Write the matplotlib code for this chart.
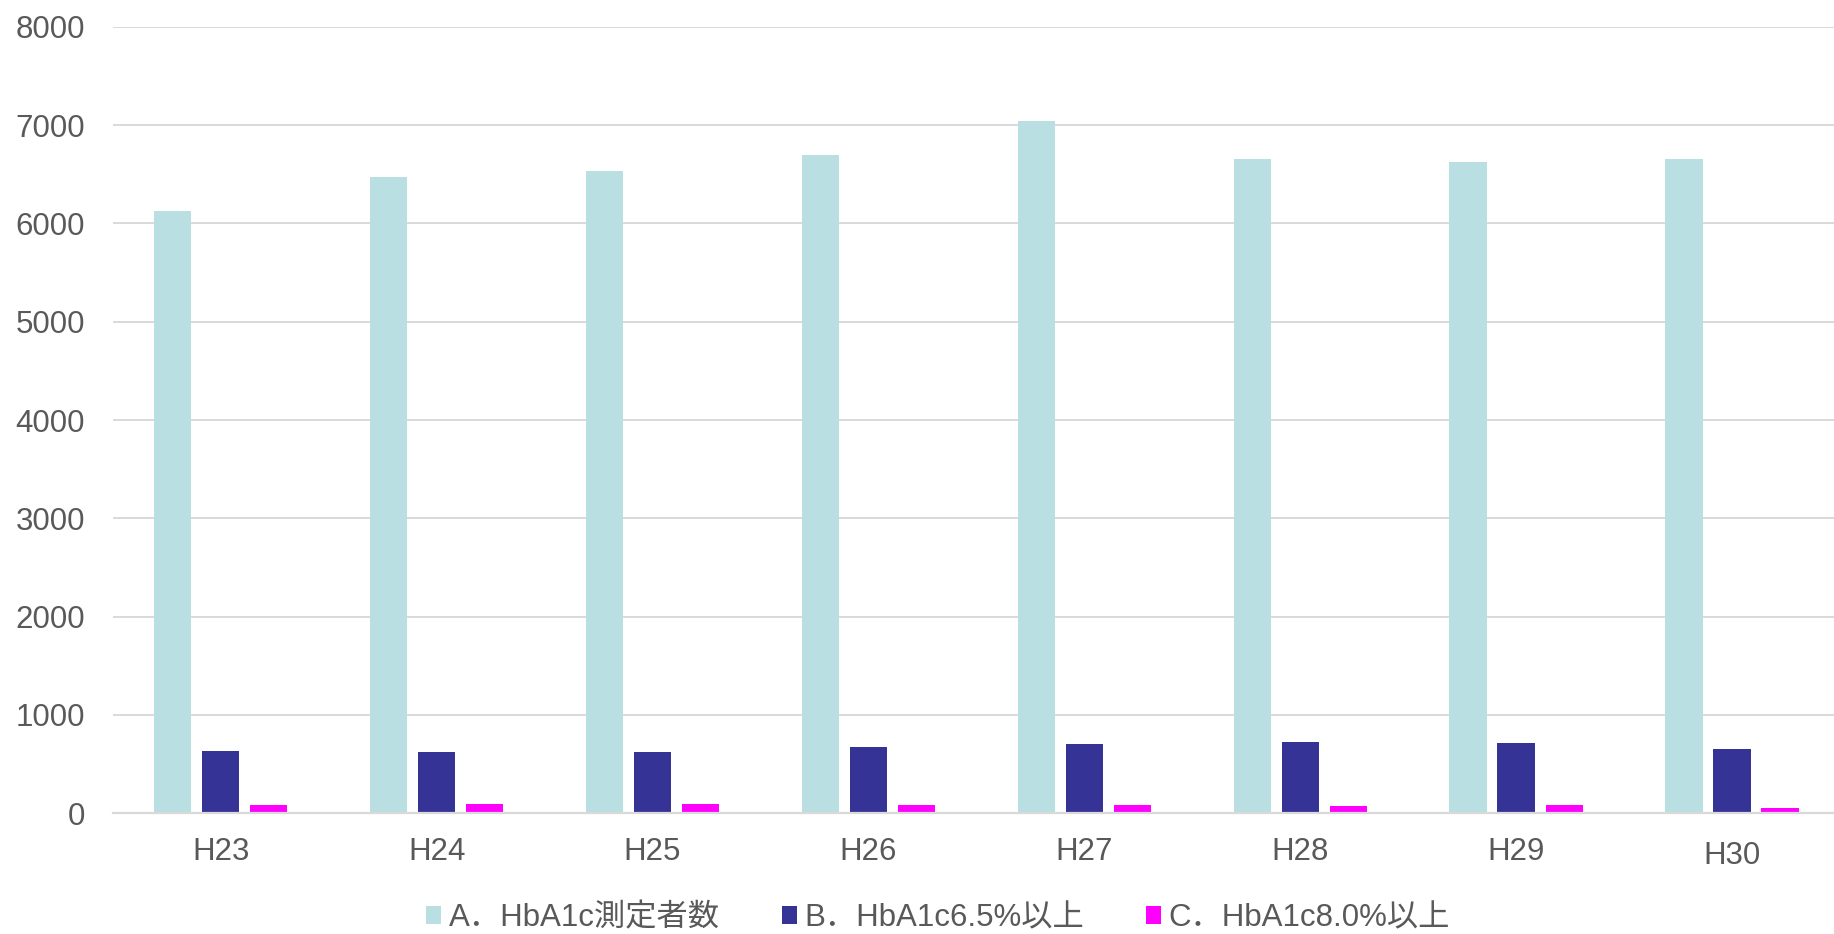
import numpy as np
import matplotlib
matplotlib.use("Agg")
import matplotlib.pyplot as plt
from matplotlib.patches import Patch
import matplotlib.transforms as mtransforms

plt.rcParams['font.family'] = ['Liberation Sans', 'Noto Sans CJK JP', 'DejaVu Sans']

categories = ["H23", "H24", "H25", "H26", "H27", "H28", "H29", "H30"]
series_names = ["A．HbA1c測定者数", "B．HbA1c6.5%以上", "C．HbA1c8.0%以上"]
a_measured = [6122, 6476, 6531, 6695, 7044, 6651, 6624, 6658]
b_over65 = [634, 624, 627, 671, 705, 722, 712, 651]
c_over80 = [85, 98, 98, 85, 85, 75, 85, 54]
y_ticks = [0, 1000, 2000, 3000, 4000, 5000, 6000, 7000, 8000]

colors = ["#BADFE3", "#363396", "#FF00FF"]
text_color = "#595959"
grid_color = "#D9D9D9"

W, H = 1834, 934
fig = plt.figure(figsize=(W / 100, H / 100), dpi=100)
left, right = 112.8, 1840.0
top, bottom = 26.7, 813.3
ax = fig.add_axes([left / W, 1 - bottom / H, (right - left) / W, (bottom - top) / H])

x = np.arange(len(categories))
bw = 0.173
off = 0.2225
ax.bar(x - off, a_measured, bw, color=colors[0], zorder=3)
ax.bar(x, b_over65, bw, color=colors[1], zorder=3)
ax.bar(x + off, c_over80, bw, color=colors[2], zorder=3)

ax.set_xlim(-0.5, len(categories) - 0.5)
ax.set_ylim(0, 8000)
ax.set_yticks(y_ticks)
ax.set_yticklabels([str(v) for v in y_ticks])
ax.set_xticks(x)
ax.set_xticklabels(categories)

ax.yaxis.grid(True, color=grid_color, linewidth=1.4, zorder=0)
ax.set_axisbelow(True)
for s in ["left", "right", "top"]:
    ax.spines[s].set_visible(False)
ax.spines["bottom"].set_color(grid_color)
ax.spines["bottom"].set_linewidth(1.6)
ax.spines["bottom"].set_zorder(4)

ax.tick_params(axis="y", length=0, pad=20, labelsize=22.5, labelcolor=text_color)
ax.tick_params(axis="x", length=0, pad=17, labelsize=22.5, labelcolor=text_color)

# last category label sits slightly lower in the reference
lab = ax.get_xticklabels()[-1]
lab.set_transform(lab.get_transform() + mtransforms.ScaledTranslation(0, -4 / 100, fig.dpi_scale_trans))

handles = [Patch(facecolor=c, edgecolor='none') for c in colors]
fig.legend(handles, series_names, loc="center",
           bbox_to_anchor=(938 / W, 1 - 918 / H), ncol=3, frameon=False,
           fontsize=22.5, handlelength=0.49, handleheight=0.5,
           handletextpad=0.24, columnspacing=1.97, labelcolor=text_color,
           borderaxespad=0, borderpad=0)

fig.savefig("out.png", dpi=100)
